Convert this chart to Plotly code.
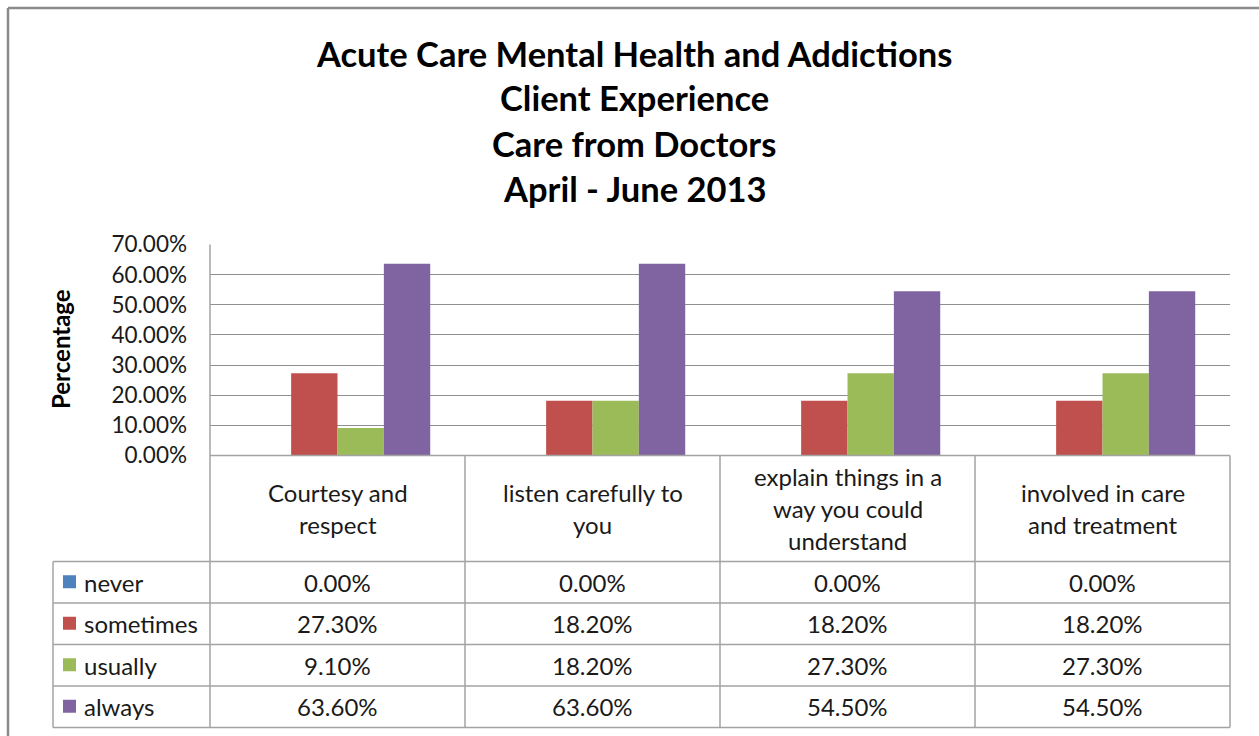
import plotly.graph_objects as go

W, H = 1259, 736

title_lines = ["Acute Care Mental Health and Addictions", "Client Experience",
               "Care from Doctors", "April - June 2013"]
categories = ["Courtesy and respect", "listen carefully to you",
              "explain things in a way you could understand", "involved in care and treatment"]
category_lines = [["Courtesy and", "respect"], ["listen carefully to", "you"],
                  ["explain things in a", "way you could", "understand"],
                  ["involved in care", "and treatment"]]
series_names = ["never", "sometimes", "usually", "always"]
never = [0.0, 0.0, 0.0, 0.0]
sometimes = [27.3, 18.2, 18.2, 18.2]
usually = [9.1, 18.2, 27.3, 27.3]
always = [63.6, 63.6, 54.5, 54.5]
series_values = [never, sometimes, usually, always]
colors = ["#4F81BD", "#C0504D", "#9BBB59", "#8064A2"]
y_ticks = [0, 10, 20, 30, 40, 50, 60, 70]

FONT = "Lato"
TXT = "#1a1a1a"


def px(x):
    return x / W


def py(y):
    return 1 - y / H


# layout geometry (pixels)
PL, PR, PT, PB = 210, 1230, 244.5, 455.5
col_x = [PL + i * (PR - PL) / 4 for i in range(5)]
TL = 53
row_y = [561.5, 603, 644.5, 686, 727.5]

fig = go.Figure()
for name, vals, c in zip(series_names, series_values, colors):
    fig.add_trace(go.Bar(name=name, x=categories, y=vals, marker=dict(color=c, line=dict(width=0))))

shapes = []
grid = "#8f8f8f"
tab = "#a3a3a3"
# outer frame (top and left edges visible)
shapes.append(dict(type="line", xref="paper", yref="paper", x0=px(8), y0=py(8), x1=px(W), y1=py(8),
                   line=dict(color="#8a8a8a", width=2.5)))
shapes.append(dict(type="line", xref="paper", yref="paper", x0=px(8), y0=py(8), x1=px(8), y1=py(H),
                   line=dict(color="#8a8a8a", width=2.5)))
# vertical table lines
for i, x in enumerate(col_x):
    y0 = PT if i == 0 else PB
    shapes.append(dict(type="line", xref="paper", yref="paper", x0=px(x), y0=py(y0), x1=px(x), y1=py(row_y[-1]),
                       line=dict(color=tab, width=1.5)))
shapes.append(dict(type="line", xref="paper", yref="paper", x0=px(TL), y0=py(row_y[0]), x1=px(TL), y1=py(row_y[-1]),
                   line=dict(color=tab, width=1.5)))
# horizontal table lines
shapes.append(dict(type="line", xref="paper", yref="paper", x0=px(PL), y0=py(PB), x1=px(PR), y1=py(PB),
                   line=dict(color=tab, width=1.5)))
for y in row_y:
    shapes.append(dict(type="line", xref="paper", yref="paper", x0=px(TL), y0=py(y), x1=px(PR), y1=py(y),
                       line=dict(color=tab, width=1.5)))

annotations = []
# title
for i, t in enumerate(title_lines):
    annotations.append(dict(text="<b>" + t + "</b>", xref="paper", yref="paper", x=px(634), y=py(53 + i * 45),
                            xanchor="center", yanchor="middle", showarrow=False,
                            font=dict(family=FONT, size=34.5, color="#000000")))
# axis title
annotations.append(dict(text="<b>Percentage</b>", xref="paper", yref="paper", x=px(60), y=py(349),
                        xanchor="center", yanchor="middle", showarrow=False, textangle=-90,
                        font=dict(family=FONT, size=24, color="#000000")))
# header category labels
hc = (PB + row_y[0]) / 2
for j, lines in enumerate(category_lines):
    cx = (col_x[j] + col_x[j + 1]) / 2
    n = len(lines)
    for k, ln in enumerate(lines):
        yy = hc + (k - (n - 1) / 2) * 32
        annotations.append(dict(text=ln, xref="paper", yref="paper", x=px(cx), y=py(yy),
                                xanchor="center", yanchor="middle", showarrow=False,
                                font=dict(family=FONT, size=24, color=TXT)))
# rows
for r, (name, vals, c) in enumerate(zip(series_names, series_values, colors)):
    cy = (row_y[r] + row_y[r + 1]) / 2
    shapes.append(dict(type="rect", xref="paper", yref="paper", x0=px(63), x1=px(76), y0=py(cy - 7), y1=py(cy + 6),
                       fillcolor=c, line=dict(width=0)))
    annotations.append(dict(text=name, xref="paper", yref="paper", x=px(82), y=py(cy),
                            xanchor="left", yanchor="middle", showarrow=False,
                            font=dict(family=FONT, size=24, color=TXT)))
    for j, v in enumerate(vals):
        cx = (col_x[j] + col_x[j + 1]) / 2
        annotations.append(dict(text=f"{v:.2f}%", xref="paper", yref="paper", x=px(cx), y=py(cy),
                                xanchor="center", yanchor="middle", showarrow=False,
                                font=dict(family=FONT, size=24, color=TXT)))

fig.update_layout(
    width=W, height=H, margin=dict(l=0, r=0, t=0, b=0, autoexpand=False),
    paper_bgcolor="white", plot_bgcolor="white",
    barmode="group", bargap=1.5 / 5.5, bargroupgap=0,
    showlegend=False, shapes=shapes, annotations=annotations,
    xaxis=dict(domain=[px(PL), px(PR)], showticklabels=False, showgrid=False, zeroline=False,
               showline=False, ticks="", automargin=False),
    yaxis=dict(domain=[py(PB), py(PT)], range=[0, 70], tickvals=y_ticks,
               ticktext=[f"{v:.2f}%" for v in y_ticks], showgrid=True, gridcolor=grid, gridwidth=1,
               zeroline=False, showline=False, ticks="", ticklabelstandoff=22, automargin=False,
               tickfont=dict(family=FONT, size=22.5, color=TXT)),
)

fig.write_html("out.html")
